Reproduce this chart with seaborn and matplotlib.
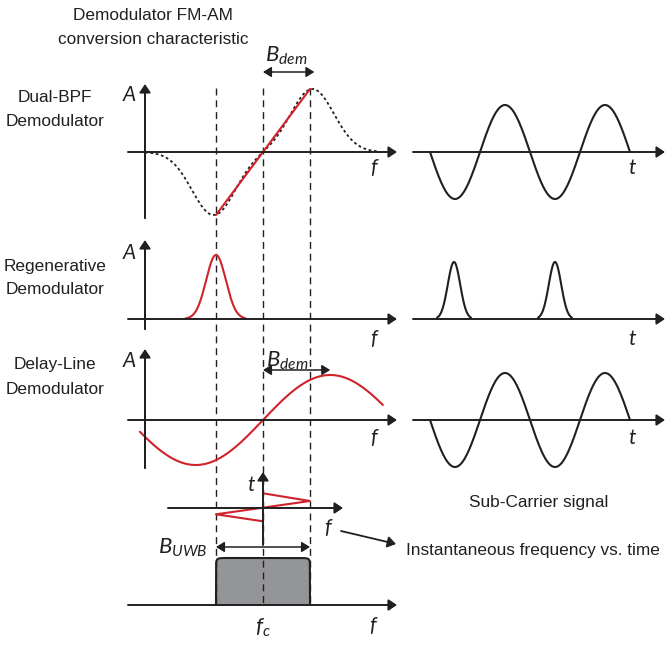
import numpy as np
import pandas as pd
import matplotlib
matplotlib.use("Agg")
import matplotlib.pyplot as plt
import seaborn as sns

sns.set_theme(style="white")
plt.rcParams["font.family"] = ["Liberation Sans", "DejaVu Sans"]
plt.rcParams["mathtext.fontset"] = "custom"
plt.rcParams["mathtext.it"] = "Lato:italic"
plt.rcParams["mathtext.rm"] = "Lato"

# ---- diagram quantities (frequency in units of B_UWB/2 around f_c) ----
band_marks = [-1.0, 0.0, 1.0]          # f_c - B/2, f_c, f_c + B/2
bpf_centres = [-1.05, 1.05]            # the two band-pass filters
bpf_sigma = 0.46
bpf_span = [-2.51, 2.43]
regen_centre = -1.0                    # regenerative resonance
regen_sigma = 0.21
regen_span = [-1.65, -0.38]
delay_peak = 1.43                      # quarter period of delay-line response
delay_span = [-2.62, 2.55]
dem_band_top = [0.0, 1.05]
dem_band_delay = [0.0, 1.43]
subcarrier_periods = 2.0               # sub-carrier, in periods
pulse_times = [0.24, 1.25]
pulse_sigma = 0.062
pulse_halfwidth = 0.17
chirp_freq = [0.0, 1.0, -1.0, 0.0]     # instantaneous frequency vs. time
chirp_time = [2.1, 1.0, -0.9, -1.9]
uwb_band = [-1.0, 1.0]

INK = "#231f20"
RED = "#d0222b"
GREY = "#939598"

# ---- layout (figure pixels) ----
W, H = 667, 647
FC_X, F_PX = 263, 47.0
T0_X, T_PX = 430, 100.0
Y_TOP, Y_REG, Y_DEL, Y_CHIRP, Y_SPEC = 152, 319, 420, 508, 605

fig = plt.figure(figsize=(W / 100, H / 100), dpi=100)
ax = fig.add_axes([0, 0, 1, 1])
ax.set_xlim(0, W)
ax.set_ylim(H, 0)
ax.axis("off")


def fx(f):
    return FC_X + F_PX * np.asarray(f, dtype=float)


def tx(t):
    return T0_X + T_PX * np.asarray(t, dtype=float)


def curve(x, y, color=INK, lw=1.5, ls="-"):
    df = pd.DataFrame({"x": x, "y": y})
    sns.lineplot(data=df, x="x", y="y", ax=ax, sort=False, estimator=None,
                 color=color, lw=lw, linestyle=ls, legend=False)


def arrow(x0, y0, x1, y1, lw=1.4, style="-|>,head_length=0.45,head_width=0.3"):
    ax.annotate("", xy=(x1, y1), xytext=(x0, y0),
                arrowprops=dict(arrowstyle=style, mutation_scale=11, lw=lw,
                                color=INK, shrinkA=0, shrinkB=0))


def label(x, y, s, size=12.4, ha="center", **kw):
    ax.text(x, y, s, fontsize=size, ha=ha, va="center", color=INK, **kw)


def var(x, y, s, size=15, ha="center"):
    ax.text(x, y, s, fontsize=size, ha=ha, va="center", color=INK,
            family="Lato", style="italic")


# ---- axes of the left (frequency) panels ----
for y0, top, bot in [(Y_TOP, 84, 218), (Y_REG, 240, 329), (Y_DEL, 349, 468)]:
    ax.plot([145, 145], [bot, top + 5], color=INK, lw=1.4)
    arrow(145, bot, 145, top)
    arrow(128, y0, 397, y0)
# ---- axes of the right (time) panels ----
for y0 in [Y_TOP, Y_REG, Y_DEL]:
    arrow(413, y0, 665, y0)

# ---- dashed markers at band edges and centre ----
for f in band_marks:
    ax.plot([fx(f), fx(f)], [88, Y_SPEC], color=INK, lw=1.0,
            linestyle=(0, (5, 3.5)))

# ---- Dual-BPF demodulator ----
A_TOP = 63
ff = np.linspace(*bpf_span, 300)
g = lambda f, c: np.exp(-0.5 * ((f - c) / bpf_sigma) ** 2)
h = g(ff, bpf_centres[1]) - g(ff, bpf_centres[0])
curve(fx(ff), Y_TOP - A_TOP * h / h.max(), lw=1.3, ls=(0, (1.5, 1.5)))
curve(fx(band_marks[::2]), Y_TOP - A_TOP * np.array([-1.0, 1.0]),
      color=RED, lw=1.5)

# ---- Regenerative demodulator ----
A_REG = 64
fr = np.linspace(*regen_span, 200)
curve(fx(fr), Y_REG - A_REG * np.exp(-0.5 * ((fr - regen_centre) / regen_sigma) ** 2),
      color=RED, lw=1.5)

# ---- Delay-line demodulator ----
A_DEL = 45
fd = np.linspace(*delay_span, 300)
curve(fx(fd), Y_DEL - A_DEL * np.sin(np.pi * fd / (2 * delay_peak)),
      color=RED, lw=1.5)

# ---- sub-carrier signals ----
A_SUB = 47
ts = np.linspace(0, subcarrier_periods, 400)
for y0 in [Y_TOP, Y_DEL]:
    curve(tx(ts), y0 + A_SUB * np.sin(2 * np.pi * ts), lw=1.5)
A_PULSE = 57
for tp in pulse_times:
    tt = np.linspace(tp - pulse_halfwidth, tp + pulse_halfwidth, 120)
    curve(tx(tt), Y_REG - A_PULSE * np.exp(-0.5 * ((tt - tp) / pulse_sigma) ** 2), lw=1.5)

# ---- instantaneous frequency vs. time ----
T_PX_CHIRP = 7.0
arrow(FC_X, 545, FC_X, 472)
arrow(168, Y_CHIRP, 343, Y_CHIRP)
curve(fx(chirp_freq), Y_CHIRP - T_PX_CHIRP * np.array(chirp_time), color=RED, lw=1.5)
arrow(341, 531, 396, 544, lw=1.3)

# ---- UWB spectrum ----
A_SPEC = 47
fs = np.linspace(*uwb_band, 600)
hs = np.clip(1 - np.abs(fs) ** 24, 0, None) ** (1 / 24)
ax.fill_between(fx(fs), Y_SPEC, Y_SPEC - A_SPEC * hs, color=GREY, lw=0, zorder=1)
curve(fx(fs), Y_SPEC - A_SPEC * hs, lw=1.5)
arrow(128, Y_SPEC, 397, Y_SPEC)

# ---- bandwidth arrows ----
dbl = "<|-|>,head_length=0.45,head_width=0.28"
arrow(fx(dem_band_top[0]), 72, fx(dem_band_top[1]) + 2, 72, lw=1.1, style=dbl)
arrow(fx(dem_band_delay[0]), 370, fx(dem_band_delay[1]), 370, lw=1.1, style=dbl)
arrow(fx(uwb_band[0]), 547, fx(uwb_band[1]), 547, lw=1.1, style=dbl)

# ---- text ----
label(153, 16, "Demodulator FM-AM")
label(153, 40, "conversion characteristic")
label(55, 98, "Dual-BPF")
label(55, 122, "Demodulator")
label(55, 266, "Regenerative")
label(55, 290, "Demodulator")
label(55, 364, "Delay-Line")
label(55, 389, "Demodulator")
label(539, 503, "Sub-Carrier signal")
label(406, 550, "Instantaneous frequency vs. time", ha="left")

for y in [95, 253, 361]:
    var(129, y, "A")
for y in [168, 339, 438]:
    var(374, y, "f")
    var(632, y, "t")
var(373, 626, "f")
var(328, 528, "f")
var(251, 485, "t")
ax.text(286, 56, r"$B_{dem}$", fontsize=16, ha="center", va="center", color=INK)
ax.text(287, 361, r"$B_{dem}$", fontsize=16, ha="center", va="center", color=INK)
ax.text(208, 548, r"$B_{UWB}$", fontsize=16, ha="right", va="center", color=INK)
ax.text(263, 628, r"$f_c$", fontsize=16, ha="center", va="center", color=INK)

fig.savefig("out.png", dpi=100)
